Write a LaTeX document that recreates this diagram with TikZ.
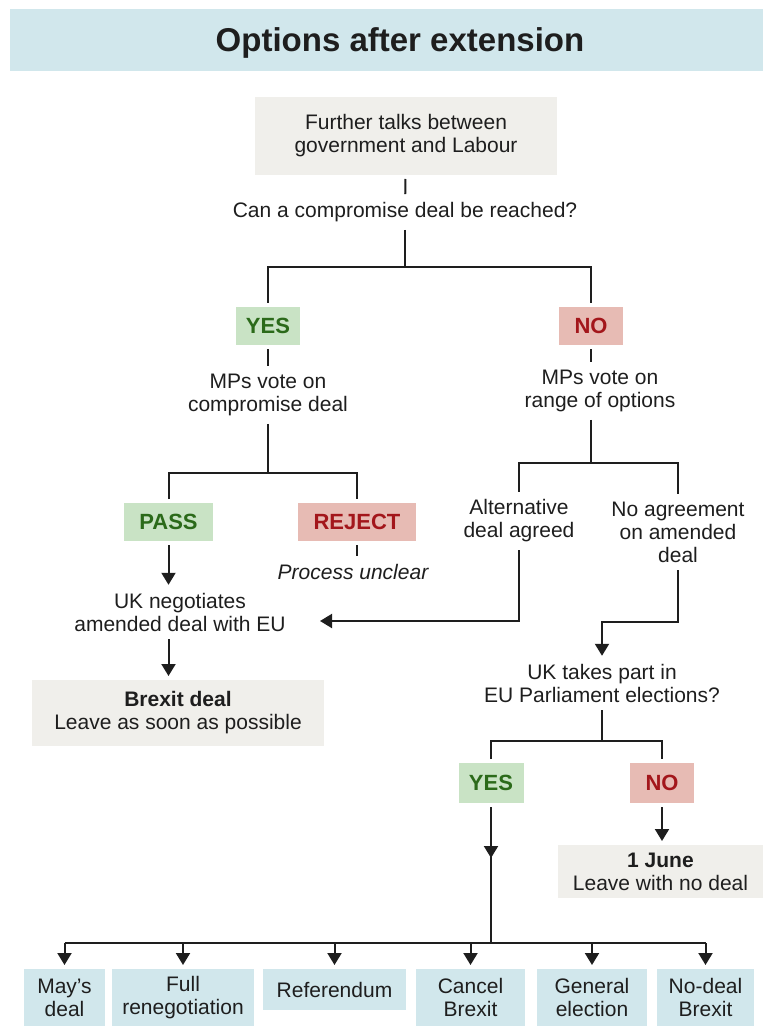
\documentclass[tikz,border=0pt]{standalone}
\usepackage{fontspec}
\setmainfont{Liberation Sans}
\usetikzlibrary{arrows.meta,calc}
\definecolor{barblue}{HTML}{D1E7EC}
\definecolor{boxgrey}{HTML}{F0EFEB}
\definecolor{yesfill}{HTML}{C9E3C5}
\definecolor{yestext}{HTML}{2B6A1A}
\definecolor{nofill}{HTML}{E7BBB4}
\definecolor{notext}{HTML}{A3161B}
\definecolor{ink}{HTML}{1E1E1E}
\newcommand\bodysize{\fontsize{10.5}{11.5}\selectfont}
\newcommand\tagsize{\fontsize{11}{12}\selectfont\bfseries}
\tikzset{
  txt/.style={align=center,inner sep=2pt,outer sep=2pt,text=ink,font=\bodysize},
  greybox/.style={fill=boxgrey,align=center,inner sep=0pt,outer sep=2pt,
    text=ink,font=\bodysize},
  yesbox/.style={fill=yesfill,text=yestext,font=\tagsize,minimum height=19pt,
    inner sep=0pt,outer sep=2pt},
  nobox/.style={fill=nofill,text=notext,font=\tagsize,minimum height=19pt,
    inner sep=0pt,outer sep=2pt},
  optbox/.style={fill=barblue,align=center,inner sep=0pt,outer sep=2pt,
    text=ink,font=\bodysize},
  link/.style={draw=ink,line width=1pt},
  arr/.style={link,-{Triangle[width=7pt,length=6pt]}},
}
\begin{document}
\begin{tikzpicture}[x=0.5pt,y=-0.5pt]
\useasboundingbox (0,0) rectangle (763,1026);
% title
\node[fill=barblue,minimum width=376.5pt,minimum height=31pt,inner sep=0pt]
  (titlebar) at (386.5,40.5) {};
\node[text=ink,font=\fontsize{16.5}{18}\selectfont\bfseries,inner sep=0pt,
  anchor=base] (title) at (400,52) {Options after extension};
% talks and first question
\node[greybox,minimum width=151pt,minimum height=39pt] (talks) at (406,136)
  {Further talks between\\government and Labour};
\node[txt] (ask1) at (405,212) {Can a compromise deal be reached?};
\node[yesbox,minimum width=32pt] (yes1) at (268,326) {YES};
\node[nobox,minimum width=32pt] (no1) at (591,326) {NO};
\coordinate (b1) at (405,267);
\draw[link] (talks) -- (ask1);
\draw[link] (ask1) -- (b1);
\draw[link] (yes1) |- (b1) -| (no1);
% yes branch
\node[txt] (mps1) at (268,395) {MPs vote on\\compromise deal};
\draw[link] (yes1) -- (mps1);
\coordinate (b2) at (268,473);
\node[yesbox,minimum width=44.5pt] (pass) at (168.5,522) {PASS};
\node[nobox,minimum width=59pt] (reject) at (357,522) {REJECT};
\draw[link] (mps1) -- (b2);
\draw[link] (pass) |- (b2) -| (reject);
\node[txt,font=\bodysize\itshape] (unclear) at (353,572) {Process unclear};
\draw[link] (reject.south) -- (reject.south |- unclear.north);
\node[txt] (nego) at (180,612) {UK negotiates\\amended deal with EU};
\draw[arr] (pass.south) -- (pass.south |- nego.north);
\node[greybox,minimum width=146pt,minimum height=33pt] (deal) at (178,713)
  {\textbf{Brexit deal}\\Leave as soon as possible};
\draw[arr] (nego.south -| pass.south) -- (deal.north -| pass.south);
% no branch
\node[txt] (mps2) at (600,391) {MPs vote on\\range of options};
\draw[link] (no1) -- (no1 |- mps2.north);
\coordinate (b3) at (591,463);
\node[txt] (alt) at (519,521) {Alternative\\deal agreed};
\node[txt] (noagr) at (678,532) {No agreement\\on amended\\deal};
\draw[link] (mps2.south -| no1) -- (b3);
\draw[link] (alt) |- (b3) -| (noagr);
\coordinate (negoin) at (320,621);
\draw[arr] (alt) |- (negoin);
\node[txt] (euq) at (602,683) {UK takes part in\\EU Parliament elections?};
\coordinate (bend1) at (602,622);
\draw[arr] (noagr) |- (bend1) -- (euq);
% election question
\coordinate (b4) at (602,741);
\node[yesbox,minimum width=32.5pt,minimum height=20pt] (yes2) at (491,783) {YES};
\node[nobox,minimum width=32pt,minimum height=20pt] (no2) at (662,783) {NO};
\draw[link] (euq) -- (b4);
\draw[link] (yes2) |- (b4) -| (no2);
\node[greybox,minimum width=102.5pt,minimum height=26.5pt] (june) at (660.5,871.5)
  {\textbf{1 June}\\Leave with no deal};
\draw[arr] (no2) -- (no2 |- june.north);
\coordinate (b5) at (491,943);
\coordinate (yesmid) at (491,858);
\draw[arr] (yes2) -- (yesmid);
\draw[link] (yes2) -- (b5);
% final options
\node[optbox,minimum width=40.5pt,minimum height=28.5pt] (may) at (64.5,997.5) {May’s\\deal};
\node[optbox,minimum width=71pt,minimum height=28.5pt] (full) at (183,997.5) {Full\\renegotiation};
\node[optbox,minimum width=71.5pt,minimum height=20.5pt] (ref) at (334.5,989.5) {Referendum};
\node[optbox,minimum width=54.5pt,minimum height=28.5pt] (cancel) at (470.5,997.5) {Cancel\\Brexit};
\node[optbox,minimum width=55pt,minimum height=28.5pt] (general) at (592,997.5) {General\\election};
\node[optbox,minimum width=48.5pt,minimum height=28.5pt] (nodeal) at (705.5,997.5) {No-deal\\Brexit};
\draw[link] (may |- b5) -- (nodeal |- b5);
\foreach \o in {may,full,ref,cancel,general,nodeal}
  \draw[arr] (\o |- b5) -- (\o);
\end{tikzpicture}
\end{document}
